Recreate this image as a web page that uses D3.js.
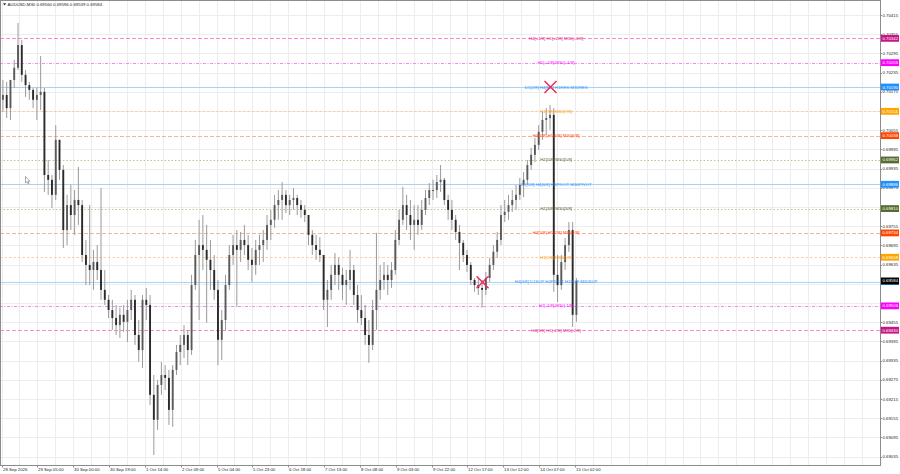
<!DOCTYPE html>
<html>
<head>
<meta charset="utf-8">
<script src="https://cdn.jsdelivr.net/npm/d3@7"></script>
<style>
  body { margin: 0; background: #fff; }
  svg { display: block; }
  text { font-family: "Liberation Sans", Arial, sans-serif; }
</style>
</head>
<body>
<svg id="chart" width="900" height="474"></svg>
<script>
// AUDUSD M30, drawn as 2-hour columns (4 bars each)
var title = "AUDUSD,M30 0.69560 0.69596 0.69539 0.69584";
var firstOpen = 0.70150;
var lastPrice = 0.69584;

var highs = [
  0.70212,0.70206,0.70196,0.70275,0.70390,0.70337,0.70243,0.70206,0.70187,0.70187,
  0.70287,0.70187,0.69962,0.69915,0.70071,0.70025,0.69946,0.69853,0.69884,0.69868,
  0.69940,0.69837,0.69712,0.69821,0.69681,0.69696,0.69874,0.69618,0.69540,0.69525,
  0.69509,0.69500,0.69509,0.69525,0.69556,0.69540,0.69462,0.69540,0.69562,0.69540,
  0.69290,0.69275,0.69331,0.69321,0.69306,0.69321,0.69384,0.69415,0.69446,0.69431,
  0.69603,0.69712,0.69775,0.69790,0.69759,0.69712,0.69665,0.69587,0.69493,0.69603,
  0.69696,0.69728,0.69743,0.69737,0.69759,0.69728,0.69687,0.69712,0.69728,0.69743,
  0.69790,0.69806,0.69853,0.69868,0.69893,0.69868,0.69853,0.69874,0.69853,0.69837,
  0.69821,0.69790,0.69743,0.69728,0.69721,0.69656,0.69587,0.69634,0.69671,0.69656,
  0.69625,0.69618,0.69681,0.69634,0.69571,0.69540,0.69509,0.69462,0.69525,0.69734,
  0.69634,0.69643,0.69634,0.69643,0.69743,0.69806,0.69878,0.69853,0.69837,0.69821,
  0.69821,0.69837,0.69868,0.69890,0.69900,0.69915,0.69946,0.69906,0.69853,0.69837,
  0.69790,0.69759,0.69712,0.69681,0.69643,0.69593,0.69593,0.69587,0.69612,0.69656,
  0.69696,0.69737,0.69821,0.69837,0.69853,0.69868,0.69884,0.69906,0.69924,0.69962,
  0.70000,0.70031,0.70071,0.70112,0.70124,0.70134,0.70124,0.69665,0.69665,0.69718,
  0.69768,0.69768,0.69593
];
var lows = [
  0.70112,0.70093,0.70087,0.70187,0.70243,0.70206,0.70159,0.70150,0.70124,0.70087,
  0.70118,0.69862,0.69853,0.69812,0.69837,0.69900,0.69687,0.69696,0.69743,0.69728,
  0.69759,0.69643,0.69571,0.69571,0.69556,0.69587,0.69525,0.69509,0.69468,0.69431,
  0.69415,0.69406,0.69425,0.69393,0.69462,0.69384,0.69331,0.69312,0.69462,0.69196,
  0.69040,0.69118,0.69228,0.69243,0.69134,0.69128,0.69290,0.69321,0.69343,0.69321,
  0.69353,0.69556,0.69462,0.69618,0.69453,0.69556,0.69525,0.69321,0.69337,0.69431,
  0.69556,0.69634,0.69503,0.69643,0.69665,0.69618,0.69581,0.69603,0.69634,0.69643,
  0.69681,0.69712,0.69750,0.69775,0.69775,0.69796,0.69790,0.69806,0.69790,0.69781,
  0.69768,0.69696,0.69665,0.69650,0.69643,0.69493,0.69440,0.69525,0.69571,0.69556,
  0.69525,0.69509,0.69556,0.69509,0.69453,0.69446,0.69384,0.69328,0.69368,0.69431,
  0.69525,0.69556,0.69540,0.69562,0.69603,0.69696,0.69759,0.69743,0.69712,0.69681,
  0.69728,0.69743,0.69790,0.69821,0.69837,0.69843,0.69862,0.69821,0.69775,0.69743,
  0.69712,0.69618,0.69643,0.69612,0.69571,0.69550,0.69540,0.69500,0.69540,0.69581,
  0.69618,0.69656,0.69696,0.69768,0.69775,0.69800,0.69806,0.69837,0.69846,0.69884,
  0.69931,0.69956,0.69993,0.70025,0.70040,0.70056,0.69550,0.69518,0.69556,0.69618,
  0.69675,0.69440,0.69456
];
var closes = [
  0.70165,0.70124,0.70212,0.70250,0.70321,0.70228,0.70196,0.70181,0.70150,0.70165,
  0.70175,0.69915,0.69900,0.69853,0.70025,0.69931,0.69743,0.69821,0.69790,0.69837,
  0.69821,0.69665,0.69634,0.69618,0.69643,0.69618,0.69556,0.69525,0.69493,0.69468,
  0.69446,0.69478,0.69456,0.69493,0.69525,0.69415,0.69368,0.69525,0.69509,0.69228,
  0.69150,0.69259,0.69290,0.69281,0.69181,0.69306,0.69362,0.69384,0.69415,0.69368,
  0.69571,0.69665,0.69696,0.69681,0.69650,0.69618,0.69556,0.69400,0.69462,0.69571,
  0.69665,0.69696,0.69681,0.69712,0.69696,0.69650,0.69634,0.69681,0.69696,0.69712,
  0.69759,0.69775,0.69821,0.69837,0.69853,0.69821,0.69837,0.69843,0.69821,0.69806,
  0.69790,0.69728,0.69696,0.69681,0.69665,0.69525,0.69556,0.69603,0.69634,0.69603,
  0.69571,0.69587,0.69618,0.69540,0.69493,0.69468,0.69415,0.69384,0.69493,0.69556,
  0.69587,0.69603,0.69587,0.69618,0.69712,0.69775,0.69821,0.69790,0.69759,0.69775,
  0.69759,0.69806,0.69843,0.69868,0.69868,0.69893,0.69900,0.69837,0.69806,0.69775,
  0.69737,0.69703,0.69665,0.69634,0.69587,0.69571,0.69562,0.69556,0.69593,0.69634,
  0.69675,0.69712,0.69790,0.69800,0.69821,0.69837,0.69853,0.69884,0.69900,0.69946,
  0.69978,0.70009,0.70050,0.70087,0.70093,0.70103,0.69603,0.69571,0.69643,0.69696,
  0.69743,0.69478,0.69584
];

var timeTicks = ["28 Sep 2026","29 Sep 05:00","30 Sep 00:00","30 Sep 19:00","1 Oct 14:00",
  "2 Oct 09:00","5 Oct 04:00","5 Oct 23:00","6 Oct 18:00","7 Oct 13:00","8 Oct 08:00",
  "9 Oct 03:00","9 Oct 22:00","12 Oct 17:00","13 Oct 12:00","14 Oct 07:00","15 Oct 02:00"];

var priceTicks = [0.70415,0.70355,0.70295,0.70235,0.70175,0.70115,0.70055,0.69995,0.69935,
  0.69875,0.69815,0.69755,0.69695,0.69635,0.69575,0.69515,0.69455,0.69395,0.69335,0.69275,
  0.69215,0.69155,0.69095,0.69035];

var levelPrices = [0.70342,0.70266,0.70190,0.70114,0.70038,0.69962,0.69886,0.69810,
  0.69734,0.69658,0.69582,0.69506,0.69430];
var levelNames = [
  "H4[+1/8] H1[+2/8] M30[+2/8]",
  "H1[+1/8] M30[+1/8]",
  "D1[2/8] H4[8/8] H1RES M30RES",
  "H1[7/8] M30[7/8]",
  "H4[7/8] H1[6/8] M30[6/8]",
  "H1[5/8] M30[5/8]",
  "D1[1/8] H4[6/8] H1PIVOT M30PIVOT",
  "H1[3/8] M30[3/8]",
  "H4[5/8] H1[2/8] M30[2/8]",
  "H1[1/8] M30[1/8]",
  "H4[4/8] D1SUP H4PIVOT H1SUP M30SUP",
  "H1[-1/8] M30[-1/8]",
  "H4[3/8] H1[-2/8] M30[-2/8]"
];
// crossing marks (bar index, price)
var crossBars = [582, 510];
var crossPrices = [0.70190, 0.69580];

// ---- styles ----
var styles = {
  outer:  {line: "#f58ccb", dash: "4,2",     text: "#e0248f", box: "#c71585"},
  magenta:{line: "#f08cf0", dash: "3,1.5,1,1.5", text: "#ff00ff", box: "#ff00ff"},
  blue:   {line: "#a9d3f5", dash: null,      text: "#1e90ff", box: "#1e90ff"},
  orange: {line: "#f8cfa2", dash: "2.5,2",   text: "#ff9a00", box: "#ffa500"},
  red:    {line: "#f7b29c", dash: "4,2",     text: "#ff4500", box: "#ff4500"},
  olive:  {line: "#c2c29a", dash: "1.5,2",   text: "#556b2f", box: "#556b2f"}
};
var levelStyle = ["outer","magenta","blue","orange","red","olive","blue","olive",
  "red","orange","blue","magenta","outer"];

var svg = d3.select("#chart"),
    width = +svg.attr("width"),
    height = +svg.attr("height");
var plotRight = 880, plotBottom = 465;
var fs = 4.3;
var barsPerColumn = 4, labelStep = 38;

var x = d3.scaleLinear().domain([0, 608]).range([1.5, 575]);
var y = d3.scaleLinear().domain([0.70415, 0.69035]).range([15, 456.6]);
var barW = x(1) - x(0);
var lastBar = x.invert(plotRight);

// grid
var grid = svg.append("g").attr("stroke", "#ededed").attr("stroke-width", 1);
grid.selectAll(".vg").data(d3.range(0, lastBar, labelStep / 2)).enter().append("line")
  .attr("x1", function(d) { return Math.round(x(d)) + 0.5; })
  .attr("x2", function(d) { return Math.round(x(d)) + 0.5; })
  .attr("y1", 0).attr("y2", plotBottom);
grid.selectAll(".hg").data(priceTicks).enter().append("line")
  .attr("x1", 0).attr("x2", plotRight)
  .attr("y1", function(d) { return Math.round(y(d)) + 0.5; })
  .attr("y2", function(d) { return Math.round(y(d)) + 0.5; });

// level lines
var levels = levelPrices.map(function(p, i) {
  return {price: p, name: levelNames[i], st: styles[levelStyle[i]]};
});
svg.append("g").selectAll("line").data(levels).enter().append("line")
  .attr("x1", 0).attr("x2", plotRight)
  .attr("y1", function(d) { return Math.round(y(d.price)) + 0.5; })
  .attr("y2", function(d) { return Math.round(y(d.price)) + 0.5; })
  .attr("stroke", function(d) { return d.st.line; })
  .attr("stroke-width", 1)
  .attr("stroke-dasharray", function(d) { return d.st.dash; });

// candles
var cols = closes.map(function(c, i) {
  var o = i === 0 ? firstOpen : closes[i - 1];
  return {
    bar: i * barsPerColumn + (barsPerColumn - 1) / 2,
    open: o, close: c,
    high: Math.max(highs[i], o, c),
    low: Math.min(lows[i], o, c)
  };
});
var cg = svg.append("g");
cg.selectAll(".wick").data(cols).enter().append("line")
  .attr("x1", function(d) { return x(d.bar); })
  .attr("x2", function(d) { return x(d.bar); })
  .attr("y1", function(d) { return y(d.high); })
  .attr("y2", function(d) { return y(d.low); })
  .attr("stroke", "#9a9a9a").attr("stroke-width", 1);
var bodyW = barW * barsPerColumn * 0.5;
cg.selectAll(".body").data(cols).enter().append("rect")
  .attr("x", function(d) { return x(d.bar) - bodyW / 2; })
  .attr("width", bodyW)
  .attr("y", function(d) { return y(Math.max(d.open, d.close)); })
  .attr("height", function(d) { return Math.max(1, Math.abs(y(d.open) - y(d.close))); })
  .attr("fill", function(d) { return d.close < d.open ? "#2a2a2a" : "#5a5a5a"; });

// level labels
var labelX = x(588);
svg.append("g").selectAll("text").data(levels).enter().append("text")
  .attr("x", labelX)
  .attr("y", function(d) { return y(d.price); })
  .attr("text-anchor", "middle")
  .attr("dominant-baseline", "central")
  .attr("font-size", fs)
  .attr("fill", function(d) { return d.st.text; })
  .text(function(d) { return d.name; });

// crosses
var crosses = crossBars.map(function(b, i) { return {bar: b, price: crossPrices[i]}; });
svg.append("g").selectAll("path").data(crosses).enter().append("path")
  .attr("d", function(d) {
    var cx = x(d.bar), cy = y(d.price), r = 6;
    return "M" + (cx - r) + "," + (cy - r) + "L" + (cx + r) + "," + (cy + r) +
           "M" + (cx - r) + "," + (cy + r) + "L" + (cx + r) + "," + (cy - r);
  })
  .attr("stroke", "#ee2d58").attr("stroke-width", 1.5).attr("fill", "none");

// frame
svg.append("rect").attr("x", 0.5).attr("y", 0.5)
  .attr("width", plotRight).attr("height", plotBottom)
  .attr("fill", "none").attr("stroke", "#8c8c8c").attr("stroke-width", 1);

// right price axis
var boxPrices = levelPrices.concat([lastPrice]);
var shownTicks = priceTicks.filter(function(p) {
  return !boxPrices.some(function(b) { return Math.abs(y(b) - y(p)) < 3.2; });
});
var ra = svg.append("g");
ra.selectAll("line").data(priceTicks).enter().append("line")
  .attr("x1", plotRight).attr("x2", plotRight + 2)
  .attr("y1", function(d) { return Math.round(y(d)) + 0.5; })
  .attr("y2", function(d) { return Math.round(y(d)) + 0.5; })
  .attr("stroke", "#8c8c8c");
ra.selectAll("text").data(shownTicks).enter().append("text")
  .attr("x", plotRight + 2.5)
  .attr("y", function(d) { return y(d); })
  .attr("dominant-baseline", "central")
  .attr("font-size", fs).attr("fill", "#222")
  .text(function(d) { return d.toFixed(5); });

var boxes = levels.map(function(d) { return {price: d.price, fill: d.st.box}; })
  .concat([{price: lastPrice, fill: "#000"}]);
var bx = svg.append("g").selectAll("g").data(boxes).enter().append("g")
  .attr("transform", function(d) { return "translate(" + (plotRight + 1) + "," + y(d.price) + ")"; });
bx.append("rect").attr("x", 0).attr("y", -3.4).attr("width", 18).attr("height", 6.8)
  .attr("fill", function(d) { return d.fill; });
bx.append("text").attr("x", 1.5).attr("y", 0)
  .attr("dominant-baseline", "central")
  .attr("font-size", fs).attr("fill", "#fff")
  .text(function(d) { return d.price.toFixed(5); });

// bottom time axis
var ta = svg.append("g").selectAll("g").data(timeTicks).enter().append("g")
  .attr("transform", function(d, i) { return "translate(" + Math.round(x(i * labelStep)) + ",0)"; });
ta.append("line").attr("x1", 0.5).attr("x2", 0.5)
  .attr("y1", plotBottom).attr("y2", plotBottom + 2.5).attr("stroke", "#8c8c8c");
ta.append("text").attr("x", 1).attr("y", plotBottom + 5.8)
  .attr("font-size", fs).attr("fill", "#222")
  .text(function(d) { return d; });

// title
svg.append("path").attr("d", "M3,3.2L6.2,3.2L4.6,5.6Z").attr("fill", "#333");
svg.append("text").attr("x", 7.5).attr("y", 6)
  .attr("font-size", fs).attr("fill", "#222").text(title);

// mouse pointer left on the chart
svg.append("path")
  .attr("d", "M25.5,176.5 l0,6.5 l1.5,-1.4 l1.1,2.3 l0.9,-0.4 l-1.1,-2.2 l2,0 z")
  .attr("fill", "#fff").attr("stroke", "#777").attr("stroke-width", 0.6);
</script>
</body>
</html>
